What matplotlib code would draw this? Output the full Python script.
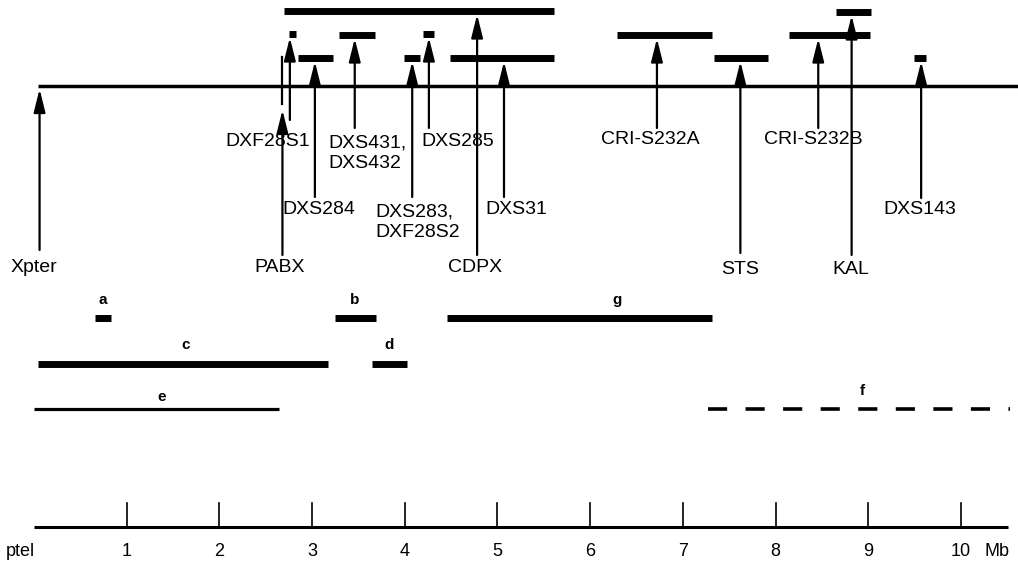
import matplotlib.pyplot as plt
import numpy as np

plt.rcParams['font.family'] = ['Liberation Sans', 'DejaVu Sans']

# ---- data (positions in Mb from ptel) ----
markers = ['Xpter', 'PABX', 'DXF28S1', 'DXS284', 'DXS431,\nDXS432', 'DXS283,\nDXF28S2',
           'DXS285', 'CDPX', 'DXS31', 'CRI-S232A', 'STS', 'CRI-S232B', 'KAL', 'DXS143']
marker_mb = [0.06, 2.68, 2.76, 3.03, 3.46, 4.08, 4.26, 4.78, 5.07, 6.72, 7.62, 8.46, 8.82, 9.57]
clone_start = [None, None, 2.75, 2.85, 3.29, 3.99, 4.20, 2.70, 4.49, 6.29, 7.34, 8.14, 8.65, 9.49]
clone_end = [None, None, 2.83, 3.23, 3.68, 4.16, 4.31, 5.61, 5.61, 7.31, 7.92, 9.02, 9.03, 9.62]

region_names = ['a', 'b', 'g', 'c', 'd', 'e', 'f']
region_start = [0.66, 3.25, 4.46, 0.04, 3.65, 0.00, 7.27]
region_end = [0.83, 3.69, 7.31, 3.17, 4.02, 2.64, 10.53]

axis_ticks = [1, 2, 3, 4, 5, 6, 7, 8, 9, 10]
map_end = 10.62

# ---- layout (pixel space of the 1018x563 picture) ----
X0, PX_PER_MB = 34.0, 92.7
def px2mb(px):
    return (px - X0) / PX_PER_MB

clone_row = [None, None, 34, 58, 35, 58, 34, 11, 58, 35, 58, 35, 12, 58]
arrow_bottom = [250, 255, 120, 197, 128, 197, 128, 255, 197, 128, 253, 128, 255, 198]
label_px = [(34, 268, 'center'), (280, 268, 'center'), (268, 142, 'center'),
            (282, 210, 'left'), (328, 153, 'left'), (375, 222, 'left'),
            (421, 142, 'left'), (475, 268, 'center'), (485, 210, 'left'),
            (650, 140, 'center'), (740, 270, 'center'), (813, 140, 'center'),
            (851, 270, 'center'), (920, 210, 'center')]
region_row = [318, 318, 318, 364, 364, 409, 409]
region_label_x = [103, 355, 617, 186, 389, 162, 862]
region_label_y = [300, 300, 300, 345, 345, 397, 391]
region_lw = [5, 5, 5, 5, 5, 2.3, 2.6]

fig = plt.figure(figsize=(10.18, 5.63), dpi=100)
ax = fig.add_axes([0, 0, 1, 1])
ax.set_xlim(px2mb(0), px2mb(1018))
ax.set_ylim(563, 0)
ax.axis('off')

main_y = 86
ax.plot([px2mb(38), map_end], [main_y, main_y], color='black', lw=2.5, solid_capstyle='butt')

arrow_style = '-|>,head_length=1.4,head_width=0.35'
for i, name in enumerate(markers):
    x = marker_mb[i]
    if clone_row[i] is not None:
        ax.plot([clone_start[i], clone_end[i]], [clone_row[i], clone_row[i]],
                color='black', lw=5, solid_capstyle='butt')
        tip = clone_row[i] + 3.5
    elif name == 'Xpter':
        tip = main_y + 3
    else:
        tip = 110
    ax.annotate('', xy=(x, tip), xytext=(x, arrow_bottom[i]),
                arrowprops=dict(arrowstyle=arrow_style, lw=1.6, color='black',
                                shrinkA=0, shrinkB=0))
    if name == 'PABX':
        ax.plot([x, x], [57, 104], color='black', lw=1.6)
    lx, ly, ha = label_px[i]
    ax.text(px2mb(lx), ly, name, ha=ha, va='center', fontsize=14, linespacing=1.3)

for i, r in enumerate(region_names):
    y = region_row[i]
    if r == 'f':
        ax.plot([region_start[i], region_end[i]], [y, y], color='black', lw=region_lw[i],
                dashes=(5.3, 5.1), dash_capstyle='butt')
    else:
        ax.plot([region_start[i], region_end[i]], [y, y], color='black', lw=region_lw[i],
                solid_capstyle='butt')
    ax.text(px2mb(region_label_x[i]), region_label_y[i], r, ha='center', va='center',
            fontsize=11, fontweight='bold')

# scale bar
axis_y = 527
ax.plot([0, px2mb(1008)], [axis_y, axis_y], color='black', lw=2.2, solid_capstyle='butt')
for t in axis_ticks:
    ax.plot([t, t], [503, axis_y], color='black', lw=1.2)
    ax.text(t, 552, str(t), ha='center', va='center', fontsize=13)
ax.text(px2mb(20), 552, 'ptel', ha='center', va='center', fontsize=13)
ax.text(px2mb(997), 552, 'Mb', ha='center', va='center', fontsize=13)

plt.savefig('out.png', dpi=100)
